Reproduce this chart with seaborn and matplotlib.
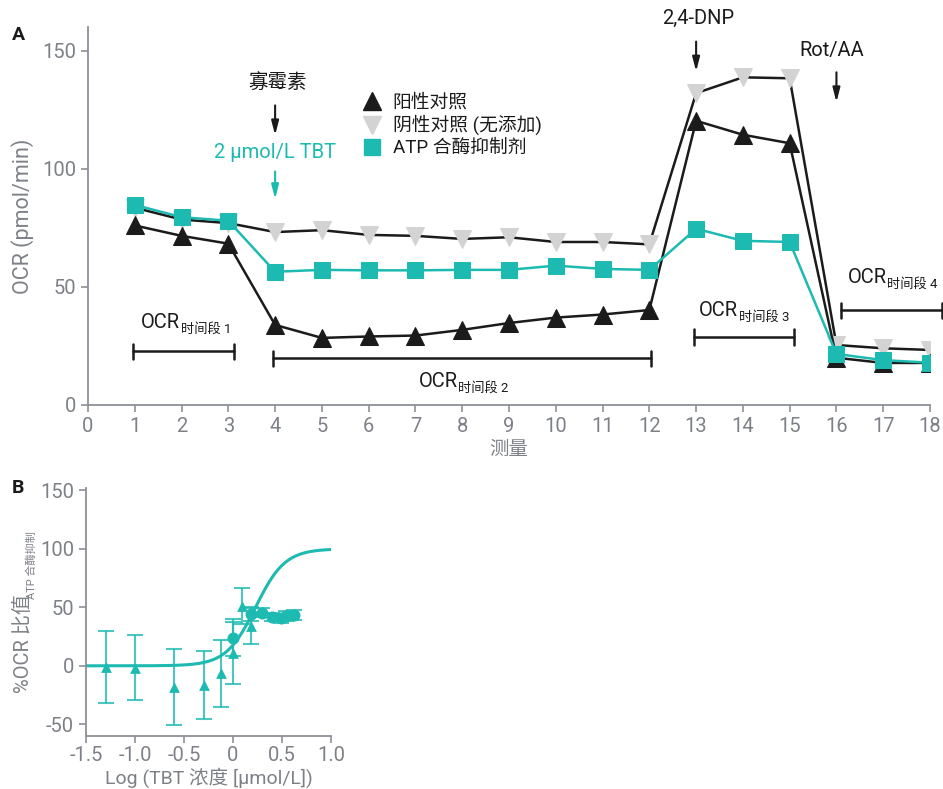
import numpy as np
import pandas as pd
import seaborn as sns
import matplotlib.pyplot as plt
from matplotlib.lines import Line2D

# Panel A: OCR per measurement for the three conditions
measurements = list(range(1, 19))
pos_ctrl = [76, 71.6, 68.3, 33.9, 28.4, 29, 29.4, 31.8, 34.7, 37, 38.3, 40.2,
            120.3, 114.4, 110.8, 20, 17.8, 17.8]
neg_ctrl = [83.5, 78.5, 77, 73.2, 74, 72, 71.6, 70.3, 71, 69, 69, 68,
            132, 138.7, 138.3, 25.4, 24, 23.3]
atp_inhib = [84.7, 79.5, 78, 56.4, 57.2, 57, 57, 57.2, 57.2, 59, 57.6, 57.2,
             74.6, 69.5, 69, 21.6, 19, 17.9]
legend_labels = ["阳性对照", "阴性对照 (无添加)", "ATP 合酶抑制剂"]

# Panel B: dose response (log TBT concentration)
tri_x = [-1.3, -1.0, -0.6, -0.3, -0.12, 0.0, 0.09, 0.18]
tri_y = [-1, -1.5, -18, -16.5, -6.5, 11, 51, 34]
tri_err = [30.5, 27.5, 32.5, 29, 28.5, 26.5, 15.5, 15.5]
circ_x = [0.0, 0.18, 0.30, 0.40, 0.49, 0.54, 0.62]
circ_y = [24, 44.5, 45.5, 42, 40.5, 42.5, 43.5]
circ_err = [16, 6, 4, 3.5, 4, 4.5, 4.5]
# fitted sigmoid parameters
fit_bottom, fit_top, fit_logic50, fit_hill = 0, 100, 0.23, 2.9

BLACK = "#1b1b1b"
GRAY = "#d3d3d3"
TEAL = "#1dbab1"
AXIS = "#8c9096"
TICKTXT = "#7d8187"

sns.set_theme(style="ticks")
plt.rcParams["font.family"] = ["Roboto", "Noto Sans CJK SC", "DejaVu Sans"]
plt.rcParams["axes.unicode_minus"] = False

fig = plt.figure(figsize=(9.43, 7.89), dpi=100)
axA = fig.add_axes([88 / 943, 1 - 405 / 789, 842 / 943, 378 / 789])
axB = fig.add_axes([86 / 943, 1 - 736 / 789, 245 / 943, 248 / 789])

for ax in (axA, axB):
    sns.despine(ax=ax)
    for sp in ("left", "bottom"):
        ax.spines[sp].set_color(AXIS)
        ax.spines[sp].set_linewidth(1.3)
    ax.tick_params(colors=AXIS, labelcolor=TICKTXT, labelsize=14.5, width=1.2, length=5)

# ---- panel A lines
dfA = pd.DataFrame({"m": measurements, "pos": pos_ctrl, "neg": neg_ctrl, "atp": atp_inhib})
sns.lineplot(data=dfA, x="m", y="pos", ax=axA, color=BLACK, linewidth=1.8, marker="^",
             markersize=13, markerfacecolor=BLACK, markeredgecolor=BLACK, zorder=3)
sns.lineplot(data=dfA, x="m", y="neg", ax=axA, color=BLACK, linewidth=1.8, marker="v",
             markersize=13, markerfacecolor=GRAY, markeredgecolor=GRAY, zorder=2)
sns.lineplot(data=dfA, x="m", y="atp", ax=axA, color=TEAL, linewidth=1.8, marker="s",
             markersize=12, markerfacecolor=TEAL, markeredgecolor=TEAL, zorder=4)

axA.set_xlim(0, 18)
axA.set_ylim(0, 160)
axA.set_xticks(range(0, 19))
axA.set_yticks([0, 50, 100, 150])
axA.set_xlabel("测量", fontsize=14, color=TICKTXT)
axA.set_ylabel("OCR (pmol/min)", fontsize=15.5, color=TICKTXT)
axA.yaxis.set_label_coords(-0.064, 0.5)

# injection arrows
arrow_kw = dict(arrowstyle="-|>,head_length=0.7,head_width=0.18", lw=1.5)
axA.annotate("", xy=(4, 113), xytext=(4, 128),
             arrowprops=dict(color=BLACK, **arrow_kw), annotation_clip=False)
axA.text(4.05, 136, "寡霉素", ha="center", va="center", fontsize=14, color=BLACK)
axA.annotate("", xy=(4, 86), xytext=(4, 100),
             arrowprops=dict(color=TEAL, **arrow_kw), annotation_clip=False)
axA.text(4.0, 107, "2 μmol/L TBT", ha="center", va="center", fontsize=14.5, color=TEAL)
axA.annotate("", xy=(13, 140), xytext=(13, 155),
             arrowprops=dict(color=BLACK, **arrow_kw), annotation_clip=False)
axA.text(13.05, 163.5, "2,4-DNP", ha="center", va="center", fontsize=14.5, color=BLACK,
         clip_on=False)
axA.annotate("", xy=(16, 127), xytext=(16, 142),
             arrowprops=dict(color=BLACK, **arrow_kw), annotation_clip=False)
axA.text(15.9, 150, "Rot/AA", ha="center", va="center", fontsize=14.5, color=BLACK)

# OCR period brackets
periods = [(0.96, 3.12, 22.8, 1.97, 35, "时间段 1"),
           (3.96, 12.03, 19.8, 7.9, 10, "时间段 2"),
           (12.95, 15.1, 28.8, 13.9, 40, "时间段 3"),
           (16.1, 18.25, 40, 17.07, 54, "时间段 4")]
for x0, x1, yb, lx, ly, sub in periods:
    axA.plot([x0, x1], [yb, yb], color=BLACK, lw=1.8, clip_on=False)
    for xe in (x0, x1):
        axA.plot([xe, xe], [yb - 3.2, yb + 3.2], color=BLACK, lw=1.8, clip_on=False)
    axA.text(lx, ly, "OCR", ha="right", va="center", fontsize=14.5, color=BLACK)
    axA.annotate(sub, xy=(lx, ly), xytext=(0.5, -5), textcoords="offset points",
                 ha="left", va="center", fontsize=9.5, color=BLACK)

handles = [Line2D([], [], ls="", marker="^", ms=13, color=BLACK),
           Line2D([], [], ls="", marker="v", ms=13, color=GRAY),
           Line2D([], [], ls="", marker="s", ms=12, color=TEAL)]
leg = axA.legend(handles, legend_labels, loc="upper left", bbox_to_anchor=(0.315, 0.845),
                 frameon=False, fontsize=13.5, handletextpad=0.5, labelspacing=0.2,
                 handlelength=1.2, borderaxespad=0)
for t in leg.get_texts():
    t.set_color(BLACK)

# ---- panel B
axB.errorbar(tri_x, tri_y, yerr=tri_err, fmt="none", ecolor=TEAL, alpha=0.8,
             elinewidth=1.5, capsize=6, capthick=1.5)
axB.errorbar(circ_x, circ_y, yerr=circ_err, fmt="none", ecolor=TEAL, alpha=0.8,
             elinewidth=1.5, capsize=6, capthick=1.5)
sns.scatterplot(x=tri_x, y=tri_y, ax=axB, marker="^", s=60, color=TEAL, edgecolor=TEAL,
                linewidth=0, zorder=3)
sns.scatterplot(x=circ_x, y=circ_y, ax=axB, marker="o", s=75, color=TEAL, edgecolor=TEAL,
                linewidth=0, zorder=3)
xfit = np.linspace(-1.5, 1.0, 300)
yfit = fit_bottom + (fit_top - fit_bottom) / (1 + 10 ** ((fit_logic50 - xfit) * fit_hill))
sns.lineplot(x=xfit, y=yfit, ax=axB, color=TEAL, linewidth=2.2, zorder=2)

axB.set_xlim(-1.5, 1.0)
axB.set_ylim(-60, 152)
axB.set_xticks([-1.5, -1.0, -0.5, 0, 0.5, 1.0])
axB.set_xticklabels(["-1.5", "-1.0", "-0.5", "0", "0.5", "1.0"])
axB.set_yticks([-50, 0, 50, 100, 150])
axB.set_yticklabels(["-50", "0", "50", "100", "150"])
axB.tick_params(axis="x", pad=2)
axB.set_xlabel("Log (TBT 浓度 [μmol/L])", fontsize=14, color=TICKTXT, labelpad=2)
axB.set_ylabel("")
fig.text(23 / 943, 1 - 693 / 789, "%OCR 比值", rotation=90, ha="center", va="bottom",
         fontsize=14.5, color=TICKTXT)
fig.text(32 / 943, 1 - 599 / 789, "ATP 合酶抑制", rotation=90, ha="center", va="bottom",
         fontsize=8, color=TICKTXT)

fig.text(18 / 943, 1 - 35 / 789, "A", fontsize=14, fontweight="bold", color=BLACK,
         ha="center", va="center")
fig.text(18 / 943, 1 - 488 / 789, "B", fontsize=14, fontweight="bold", color=BLACK,
         ha="center", va="center")

fig.savefig("out.png", dpi=100)
